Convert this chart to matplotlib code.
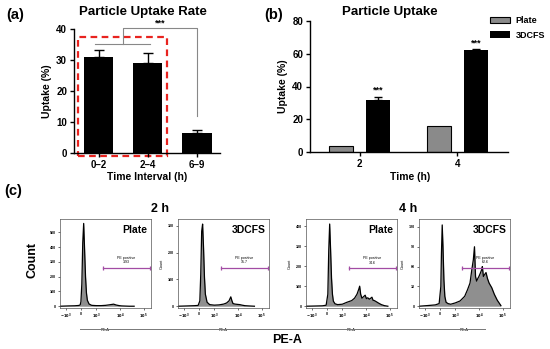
import matplotlib
matplotlib.use("Agg")
import matplotlib.pyplot as plt
from matplotlib.patches import Rectangle

plt.rcParams['font.family'] = ['Liberation Sans', 'DejaVu Sans']
plt.rcParams['font.weight'] = 'bold'
plt.rcParams['axes.labelweight'] = 'bold'
plt.rcParams['axes.titleweight'] = 'bold'

W, H = 550, 349

# (a) uptake rate per interval
intervals = ["0–2", "2–4", "6–9"]
rate = [31.0, 29.0, 6.5]
rate_err = [2.3, 3.3, 0.9]

# (b) uptake plate vs 3DCFS
times = ["2", "4"]
plate = [3.8, 15.8]
cfs = [31.8, 62.0]
cfs_err = [2.0, 0.6]

# (c) flow cytometry histograms (PE-A, count)
x_p2 = [-1700, -800, -400, -150, -50, 0, 60, 120, 180, 240, 300, 360, 420, 530, 700,
        1000, 1600, 2500, 3800, 5400, 7000, 9300, 12000, 17000, 25000, 40000]
y_p2 = [0, 2, 3, 5, 8, 30, 150, 430, 560, 380, 200, 90, 40, 15, 6,
        4, 4, 6, 10, 14, 8, 4, 2, 1, 0, 0]
x_c2 = [-1700, -800, -300, -50, 60, 120, 180, 240, 300, 360, 420, 530, 700, 1000,
        1600, 2500, 3300, 4200, 5000, 5600, 6200, 7500, 9300, 12000, 15000, 20000, 30000, 50000]
y_c2 = [0, 1, 2, 3, 20, 120, 280, 307, 220, 110, 45, 15, 6, 4,
        5, 8, 12, 20, 35, 20, 10, 8, 7, 6, 4, 2, 1, 0]
x_p4 = [-1700, -800, -300, -50, 60, 120, 180, 240, 300, 360, 420, 530, 700, 1000,
        1600, 2500, 3300, 4200, 5000, 5450, 6000, 6800, 8000, 9300, 10500, 12000, 14000,
        16000, 18000, 20000, 23000, 28000, 35000, 45000, 60000, 85000]
y_p4 = [0, 1, 2, 5, 60, 280, 410, 280, 140, 60, 25, 12, 8, 10,
        20, 28, 40, 60, 85, 100, 60, 40, 48, 55, 38, 42, 35,
        40, 45, 30, 28, 22, 15, 8, 3, 0]
x_c4 = [-1700, -800, -300, -50, 60, 100, 150, 200, 260, 320, 400, 530, 700, 1000,
        1600, 2500, 3300, 4200, 5000, 5800, 6500, 7200, 8000, 9000, 10000, 11500, 13000,
        14000, 15500, 17500, 20000, 23000, 27000, 35000, 45000, 60000, 85000]
y_c4 = [0, 1, 2, 4, 30, 80, 123, 90, 40, 15, 6, 4, 3, 5,
        8, 15, 25, 35, 55, 70, 90, 45, 38, 42, 45, 50, 55,
        60, 45, 48, 51, 42, 35, 28, 18, 9, 1]
pe_positive = ["3.93", "15.7", "34.6", "62.6"]
gate_y = [260, 144, 190, 58]
hist_ymax = [590, 326, 435, 132]
hist_yticks = [[0, 100, 200, 300, 400, 500], [0, 100, 200, 300],
               [0, 100, 200, 300, 400], [0, 30, 60, 90, 120]]
hist_names = ["Plate", "3DCFS", "Plate", "3DCFS"]


def fx(px):
    return px / W


def fy(py):
    return 1 - py / H


fig = plt.figure(figsize=(5.5, 3.49), dpi=100)

# ---- panel a
ax = fig.add_axes([fx(74), fy(153), fx(146), 124 / H])
pos = range(len(intervals))
ax.bar(pos, rate, width=0.6, color='black',
       yerr=[[0] * 3, rate_err], capsize=3.5, error_kw=dict(elinewidth=1, capthick=1))
ax.set_xlim(-0.5, 2.47)
ax.set_ylim(0, 40)
ax.set_yticks([0, 10, 20, 30, 40])
ax.set_xticks(list(pos))
ax.set_xticklabels(intervals)
ax.tick_params(labelsize=7, width=1, length=3, pad=2)
for s in ['top', 'right']:
    ax.spines[s].set_visible(False)
for s in ['left', 'bottom']:
    ax.spines[s].set_linewidth(1)
ax.set_ylabel("Uptake (%)", fontsize=7.5, labelpad=3)
# significance bracket
gl = dict(color='#888888', lw=0.8, clip_on=False)
ax.plot([-0.08, 1.05], [35.2, 35.2], **gl)
ax.plot([0.49, 0.49, 2.0, 2.0], [35.2, 40.4, 40.4, 12], **gl)
ax.text(1.25, 40.6, "***", ha='center', va='bottom', fontsize=6.5)
ax.add_patch(Rectangle((-0.41, -1), 1.8, 38.4, fill=False, ec='#e8231f', lw=1.6,
                       ls=(0, (3, 2)), clip_on=False))
fig.text(fx(143), fy(12), "Particle Uptake Rate", ha='center', va='center', fontsize=9.5)
fig.text(fx(147), fy(177), "Time Interval (h)", ha='center', va='center', fontsize=7.5)

# ---- panel b
bx = fig.add_axes([fx(310), fy(152), fx(198), 131 / H])
tp = range(len(times))
bx.bar([p - 0.19 for p in tp], plate, width=0.25, color='#8a8a8a', ec='black', lw=0.8,
       label="Plate")
bx.bar([p + 0.19 for p in tp], cfs, width=0.25, color='black', label="3DCFS",
       yerr=[[0, 0], cfs_err], capsize=3, error_kw=dict(elinewidth=1, capthick=1))
for p, v, e in zip(tp, cfs, cfs_err):
    bx.text(p + 0.19, v + e + 1.2, "***", ha='center', va='bottom', fontsize=6.5)
bx.set_xlim(-0.51, 1.52)
bx.set_ylim(0, 80)
bx.set_yticks([0, 20, 40, 60, 80])
bx.set_xticks(list(tp))
bx.set_xticklabels(times)
bx.tick_params(labelsize=7, width=1, length=3, pad=2)
for s in ['top', 'right']:
    bx.spines[s].set_visible(False)
for s in ['left', 'bottom']:
    bx.spines[s].set_linewidth(1)
bx.set_ylabel("Uptake (%)", fontsize=7.5, labelpad=3)
bx.legend(loc='upper left', bbox_to_anchor=(fx(482), fy(8)), bbox_transform=fig.transFigure,
          frameon=False, fontsize=6.5, handlelength=2.2, handleheight=0.8,
          labelspacing=0.6, handletextpad=0.6)
fig.text(fx(390), fy(12), "Particle Uptake", ha='center', va='center', fontsize=9.5)
fig.text(fx(410), fy(177), "Time (h)", ha='center', va='center', fontsize=7.5)

# ---- panel c
lefts = [60, 178, 306, 419]
data = [(x_p2, y_p2), (x_c2, y_c2), (x_p4, y_p4), (x_c4, y_c4)]
for i, (x, y) in enumerate(data):
    hx = fig.add_axes([fx(lefts[i]), fy(308), fx(91), 89 / H])
    hx.set_xscale('symlog', linthresh=1000, linscale=0.585)
    hx.fill_between(x, y, color='#8f8f8f', lw=0)
    hx.plot(x, y, color='black', lw=0.9)
    hx.set_xlim(-1718, 2.07e5)
    hx.set_ylim(-12 * hist_ymax[i] / 590, hist_ymax[i])
    hx.set_xticks([-1000, 0, 1000, 10000, 100000])
    hx.set_xticklabels(["$-10^3$", "0", "$10^3$", "$10^4$", "$10^5$"])
    hx.xaxis.set_minor_locator(plt.NullLocator())
    hx.set_yticks(hist_yticks[i])
    hx.tick_params(labelsize=2.6, length=1.5, width=0.4, pad=1.5)
    for s in hx.spines.values():
        s.set_linewidth(0.5)
        s.set_color('#555555')
    hx.set_xlabel("PE-A", fontsize=2.8, fontweight='normal', labelpad=5)
    if i > 0:
        hx.set_ylabel("Count", fontsize=2.8, fontweight='normal', labelpad=3)
    hx.text(0.96, 0.93, hist_names[i], transform=hx.transAxes, ha='right', va='top',
            fontsize=7.5)
    hx.plot([2000, 1.9e5], [gate_y[i], gate_y[i]], color='#a24ca4', lw=0.9,
            marker='|', ms=3, mew=0.9)
    hx.text(19000, gate_y[i] + hist_ymax[i] * 0.04, "PE positive\n" + pe_positive[i],
            ha='center', va='bottom', fontsize=2.6, fontweight='normal', linespacing=1.2)

fig.text(fx(160), fy(209), "2 h", ha='center', va='center', fontsize=9)
fig.text(fx(408), fy(209), "4 h", ha='center', va='center', fontsize=9)
fig.text(fx(33), fy(260), "Count", ha='center', va='center', fontsize=9, rotation=90)
fig.add_artist(plt.Line2D([fx(80), fx(485)], [fy(329), fy(329)], color='#777777', lw=0.7))
fig.text(fx(287), fy(340), "PE-A", ha='center', va='center', fontsize=9)

fig.text(fx(6), fy(15), "(a)", ha='left', va='center', fontsize=10.5)
fig.text(fx(264), fy(15), "(b)", ha='left', va='center', fontsize=10.5)
fig.text(fx(4), fy(191), "(c)", ha='left', va='center', fontsize=10.5)

fig.savefig("out.png", dpi=100)
